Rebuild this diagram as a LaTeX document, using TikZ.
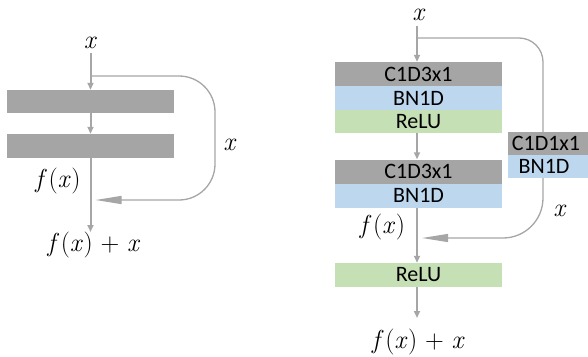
\documentclass[tikz,border=0pt]{standalone}
\usepackage{fontspec}
\newfontfamily\boxfont{Carlito}
\usetikzlibrary{arrows.meta}
\definecolor{boxgray}{HTML}{A5A5A5}
\definecolor{boxblue}{HTML}{BDD7EE}
\definecolor{boxgreen}{HTML}{C5E0B4}
\definecolor{linegray}{HTML}{A6A6A6}
\newcommand{\vx}{\textit{x}}
\newcommand{\fx}{\textit{f}\kern1.5pt(\textit{x}\kern0.5pt)}
\tikzset{
  layer/.style={rectangle, inner sep=0pt, minimum width=167pt, minimum height=24pt,
    font=\boxfont\fontsize{22}{24}\selectfont, text=black},
  graybox/.style={layer, fill=boxgray},
  bluebox/.style={layer, fill=boxblue},
  greenbox/.style={layer, fill=boxgreen},
  mathlbl/.style={inner sep=0pt, font=\fontsize{26}{28}\selectfont},
  vline/.style={draw=linegray, line width=2pt, -{Triangle[length=7pt,width=6pt]}},
  skipline/.style={draw=linegray, line width=1.3pt, -{Triangle[length=26pt,width=8pt]}},
  plainskip/.style={draw=linegray, line width=1.3pt},
}
\begin{document}
\begin{tikzpicture}[x=1pt,y=-1pt]
\useasboundingbox (0,0) rectangle (588,356);

% ---------- left diagram ----------
\node[mathlbl] (lx) at (90.5,42.5) {\vx};
\node[graybox, minimum height=23pt] (lb1) at (90.5,101.5) {};
\node[graybox] (lb2) at (90.5,146) {};
\node[mathlbl] (lfx) at (58,181) {\fx};
\node[mathlbl] (lskx) at (230,145) {\vx};
\node[mathlbl, anchor=north] (lout) at (94,232) {\fx\ + \vx};

\coordinate (lsplit) at (90.5,76);
\coordinate (ltr) at (215,76);
\coordinate (lbr) at (215,200);
\coordinate (lmerge) at (95.5,200);
\coordinate (lend) at (90.5,232);

\draw[vline, shorten <=4pt] (lx.south) -- (lb1.north);
\draw[vline] (lb1.south) -- (lb2.north);
\draw[vline] (lb2.south) -- (lend);
\draw[skipline, rounded corners=36pt] (lsplit) -- (ltr) -- (lbr) -- (lmerge);

% ---------- right diagram ----------
\node[mathlbl] (rx) at (419,15) {\vx};
\node[graybox] (rc1) at (418.5,74) {C1D3x1};
\node[bluebox] (rb1) at (418.5,98) {BN1D};
\node[greenbox, minimum height=23pt] (rr1) at (418.5,121.5) {ReLU};
\node[graybox] (rc2) at (418.5,171.5) {C1D3x1};
\node[bluebox] (rb2) at (418.5,195.5) {BN1D};
\node[greenbox] (rr2) at (418.5,275) {ReLU};
\node[graybox, minimum width=80pt, minimum height=23pt] (sc) at (548,143.5) {\hspace*{-4pt}C1D1x1};
\node[bluebox, minimum width=80pt, minimum height=23pt] (sb) at (548,166.5) {\hspace*{-8pt}BN1D};
\node[mathlbl] (rfx) at (382.5,227) {\fx};
\node[mathlbl] (rskx) at (560,211) {\vx};
\node[mathlbl, anchor=north] (rout) at (418.5,329) {\fx\ + \vx};

\coordinate (rsplit) at (417,38);
\coordinate (rtr) at (543,38);
\coordinate (rsctop) at (543,132);
\coordinate (rsbbot) at (543,178);
\coordinate (rbr) at (543,238);
\coordinate (rmerge) at (422,238);
\coordinate (rend) at (417,318);

\draw[vline, shorten <=5pt] (rx.south -| rsplit) -- (rc1.north -| rsplit);
\draw[vline] (rr1.south -| rsplit) -- (rc2.north -| rsplit);
\draw[vline] (rb2.south -| rsplit) -- (rr2.north -| rsplit);
\draw[vline] (rr2.south -| rsplit) -- (rend);
\draw[plainskip, rounded corners=24pt] (rsplit) -- (rtr) -- (rsctop);
\draw[skipline, rounded corners=40pt] (rsbbot) -- (rbr) -- (rmerge);
\end{tikzpicture}
\end{document}
